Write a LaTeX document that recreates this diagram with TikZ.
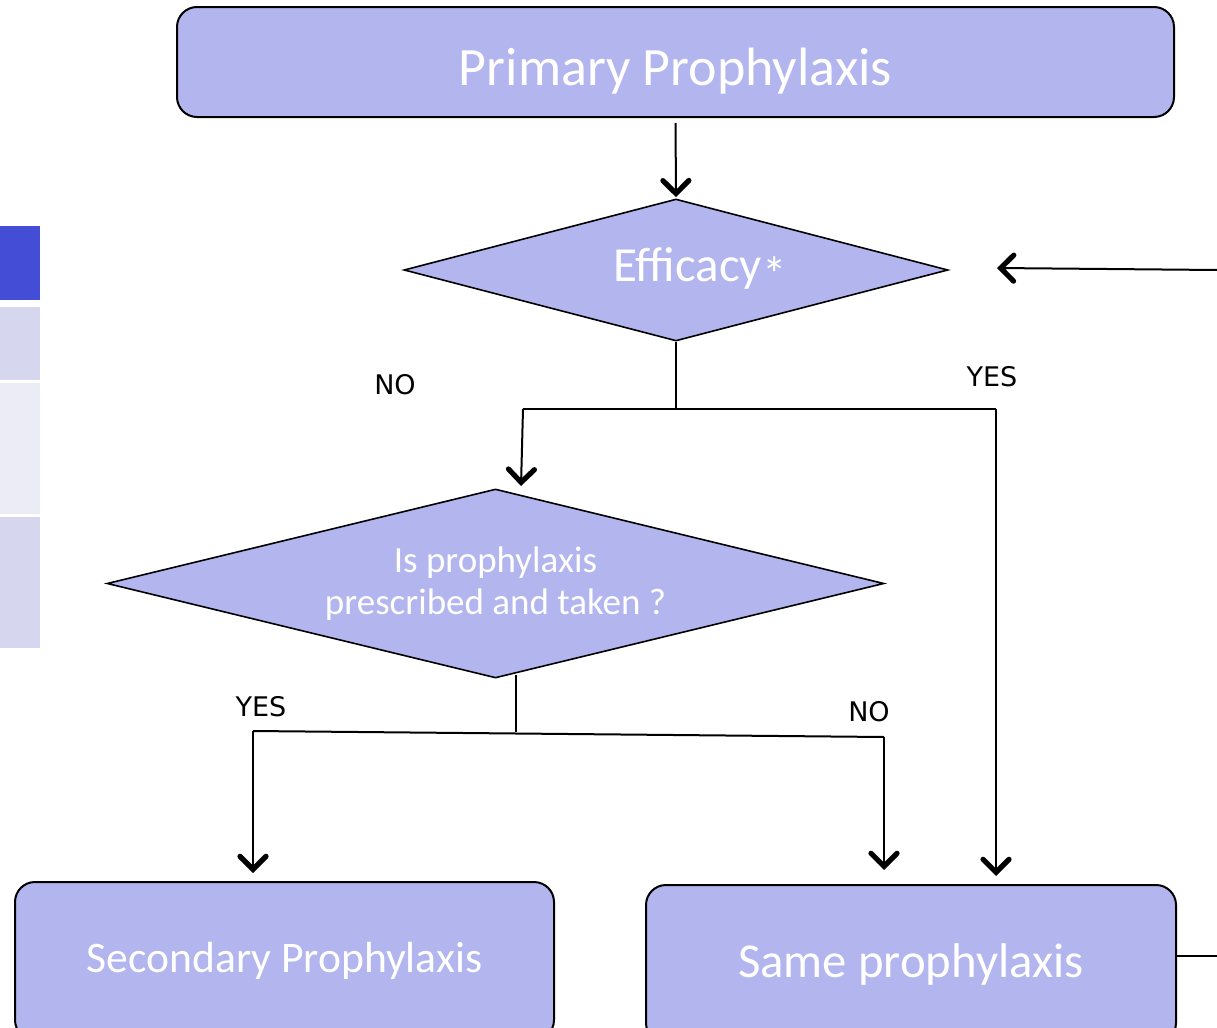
\documentclass[tikz,border=0pt]{standalone}
\usepackage{fontspec}
\setmainfont{Carlito}
\newfontfamily\labelfont{DejaVu Sans}
\usetikzlibrary{shapes.geometric,arrows.meta}
\definecolor{boxfill}{HTML}{B3B5EE}
\definecolor{stripdark}{HTML}{434DD5}
\definecolor{striplight}{HTML}{D6D7EE}
\definecolor{stripfaint}{HTML}{ECECF7}
\tikzset{
  stepbox/.style={draw=black,line width=1pt,fill=boxfill,rounded corners=10pt,text=white,inner sep=0pt},
  decision/.style={diamond,draw=black,line width=0.8pt,fill=boxfill,text=white,inner sep=0pt,align=center},
  answer/.style={font=\labelfont\fontsize{13.5}{16}\selectfont,text=black},
  link/.style={line width=1pt},
  flow/.style={line width=1pt,-{Straight Barb[length=6.5pt,width=13pt,line width=2.6pt,line cap=round]}}
}
\begin{document}
\begin{tikzpicture}[x=0.5pt,y=-0.5pt]
  \clip (0,0) rectangle (1217,1028);
  \fill[white] (0,0) rectangle (1217,1028);
  % side strip
  \fill[stripdark] (0,226) rectangle (40,300);
  \fill[striplight] (0,307) rectangle (40,380);
  \fill[stripfaint] (0,383) rectangle (40,514);
  \fill[striplight] (0,517) rectangle (40,648);
  % boxes and decisions
  \node[stepbox,minimum width=498.5pt,minimum height=55pt,font=\fontsize{27}{30}\selectfont] (primary) at (675.5,62) {\raisebox{-11.5pt}[0pt][0pt]{Primary Prophylaxis}};
  \node[decision,aspect=3.83,minimum width=272pt,minimum height=71pt,font=\fontsize{24.5}{28}\selectfont] (efficacy) at (676,270) {\hspace*{24pt}Efficacy\raisebox{-5pt}{*}};
  \node[decision,aspect=4.11,minimum width=388.5pt,minimum height=94.5pt,font=\fontsize{18.5}{21}\selectfont] (taken) at (495.5,583.5) {\raisebox{-2.5pt}{Is prophylaxis}\\\raisebox{-2.5pt}{prescribed and taken ?}};
  \node[stepbox,minimum width=269.5pt,minimum height=79pt,font=\fontsize{21.8}{25}\selectfont] (secondary) at (284.5,961) {Secondary Prophylaxis};
  \node[stepbox,minimum width=265pt,minimum height=79pt,font=\fontsize{24.4}{28}\selectfont] (same) at (911,964) {Same prophylaxis};
  % answers
  \node[answer] (noA) at (395,385) {NO};
  \node[answer] (yesA) at (992,377) {YES};
  \node[answer] (yesB) at (261,707) {YES};
  \node[answer] (noB) at (869,712) {NO};
  % junctions
  \coordinate (feedIn) at (1217,270);
  \coordinate (feedOut) at (1217,956);
  \coordinate (splitA) at (676,408);
  \coordinate (leftA) at (523,409);
  \coordinate (rightA) at (996,409);
  \coordinate (takenIn) at (521,486);
  \coordinate (splitB) at (516,675);
  \coordinate (midB) at (516,732);
  \coordinate (leftB) at (253,731);
  \coordinate (rightB) at (884,737);
  % connectors
  \draw[flow,shorten <=2.5pt,shorten >=0.5pt] (primary.south) -- (efficacy.north);
  \draw[flow] (feedIn) -- (997,268);
  \draw[link] (efficacy.south) -- (splitA);
  \draw[link] (leftA) -- (rightA);
  \draw[flow] (leftA) -- (takenIn);
  \draw[flow,shorten >=4pt] (rightA) -- (rightA |- same.north);
  \draw[link] (splitB) -- (midB);
  \draw[link] (leftB) -- (rightB);
  \draw[flow,shorten >=4pt] (leftB) -- (leftB |- secondary.north);
  \draw[flow,shorten >=7pt] (rightB) -- (rightB |- same.north);
  \draw[link] (same.east |- feedOut) -- (feedOut);
\end{tikzpicture}
\end{document}
